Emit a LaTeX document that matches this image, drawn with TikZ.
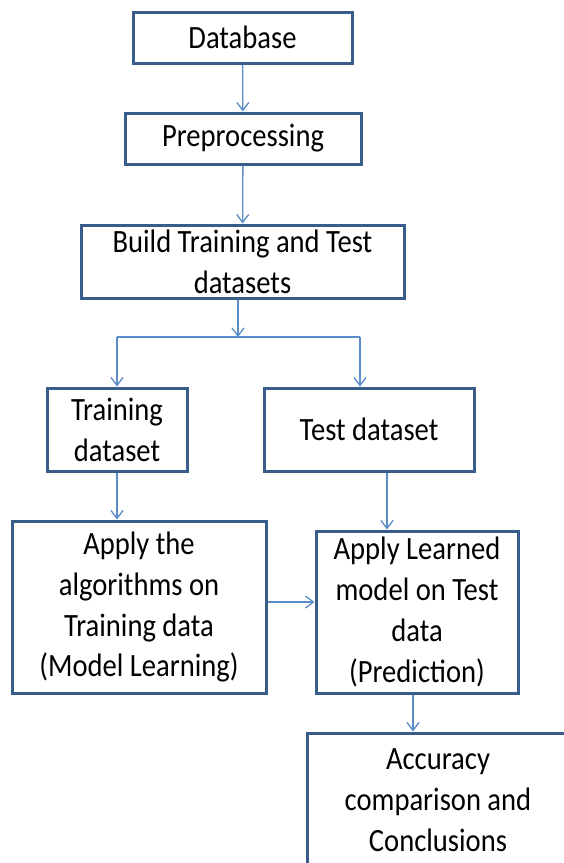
\documentclass[tikz,border=0pt]{standalone}
\usepackage{fontspec}
\setmainfont{Carlito}[FakeStretch=0.88]
\usetikzlibrary{arrows.meta}
\definecolor{boxblue}{RGB}{56,93,138}
\definecolor{linkblue}{RGB}{90,140,200}
\tikzset{
  flowbox/.style={draw=boxblue, line width=3pt, rectangle, align=center, inner sep=0pt,
    font=\fontsize{32.5}{41}\selectfont, text=black},
  link/.style={draw=linkblue, line width=1.3pt, -{Straight Barb[length=8pt,width=12pt,line width=1.3pt]}},
  plain/.style={draw=linkblue, line width=1.3pt}
}
\begin{document}
\begin{tikzpicture}[x=1pt,y=-1pt]
\useasboundingbox (0,0) rectangle (564,863);
\clip (0,0) rectangle (564,863);
\node[flowbox, minimum width=219pt, minimum height=51pt] (db) at (242.5,37.5) {Database};
\node[flowbox, minimum width=236pt, minimum height=51pt] (pre) at (243,138.5) {Preprocessing};
\node[flowbox, minimum width=323pt, minimum height=73pt] (build) at (242.5,261.5) {Build Training and Test\\datasets};
\node[flowbox, minimum width=140pt, minimum height=83pt] (train) at (117,429.5) {Training\\dataset};
\node[flowbox, minimum width=210pt, minimum height=83pt] (test) at (369,429.5) {Test dataset};
\node[flowbox, minimum width=254pt, minimum height=172pt] (alg) at (139,607) {Apply the\\algorithms on\\Training data\\(Model Learning)};
\node[flowbox, minimum width=202pt, minimum height=162pt] (apl) at (417,612) {Apply Learned\\model on Test\\data\\(Prediction)};
\node[flowbox, minimum width=262pt, minimum height=134pt] (acc) at (438,800) {Accuracy\\comparison and\\Conclusions};
\coordinate (j) at (238,337);
\coordinate (jl) at (117,337);
\coordinate (jr) at (360,337);
\coordinate (tx) at (387,0);
\coordinate (ax) at (413,0);
\draw[link] (db) -- (pre);
\draw[link] (pre) -- (build);
\draw[link] (build.south -| j) -- (j);
\draw[plain] (jl) -- (jr);
\draw[link] (jl) -- (jl |- train.north);
\draw[link] (jr) -- (jr |- test.north);
\draw[link] (train.south) -- (train.south |- alg.north);
\draw[link] (tx |- test.south) -- (tx |- apl.north);
\draw[link] ([yshift=5pt]alg.east) -- ([yshift=5pt]alg.east -| apl.west);
\draw[link] (ax |- apl.south) -- (ax |- acc.north);
\end{tikzpicture}
\end{document}
